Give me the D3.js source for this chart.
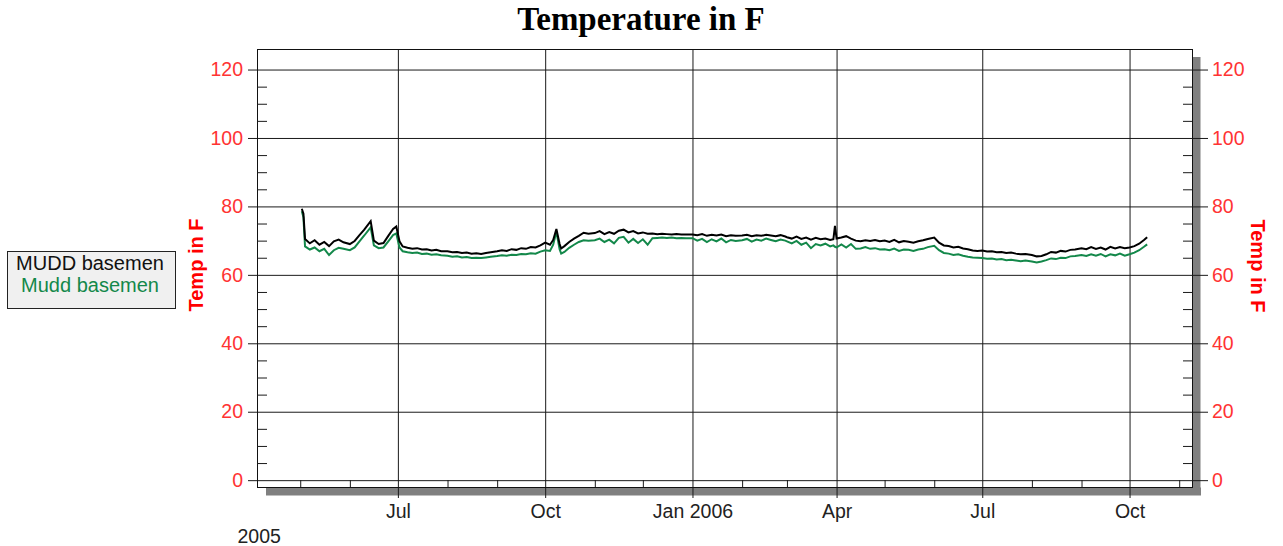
<!DOCTYPE html>
<html>
<head>
<meta charset="utf-8">
<script src="https://d3js.org/d3.v7.min.js"></script>
<style>
  body { margin: 0; background: #fff; }
  text { font-family: Arial, "Liberation Sans", sans-serif; }
</style>
</head>
<body>
<script>
// readings every ~3 days, one row per month
var dates = [
  "2005-05-02", "2005-05-03", "2005-05-04", "2005-05-07", "2005-05-10", "2005-05-13", "2005-05-16", "2005-05-19", "2005-05-22", "2005-05-25", "2005-05-28",
  "2005-06-01", "2005-06-04", "2005-06-07", "2005-06-10", "2005-06-14", "2005-06-16", "2005-06-19", "2005-06-22", "2005-06-25", "2005-06-28", "2005-06-30",
  "2005-07-02", "2005-07-04", "2005-07-07", "2005-07-10", "2005-07-13", "2005-07-16", "2005-07-19", "2005-07-22", "2005-07-25", "2005-07-28",
  "2005-08-01", "2005-08-04", "2005-08-07", "2005-08-10", "2005-08-13", "2005-08-16", "2005-08-19", "2005-08-22", "2005-08-25", "2005-08-28",
  "2005-09-01", "2005-09-04", "2005-09-07", "2005-09-10", "2005-09-13", "2005-09-16", "2005-09-19", "2005-09-22", "2005-09-25", "2005-09-28",
  "2005-10-01", "2005-10-04", "2005-10-06", "2005-10-08", "2005-10-10", "2005-10-11", "2005-10-13", "2005-10-16", "2005-10-19", "2005-10-22", "2005-10-25", "2005-10-28",
  "2005-11-01", "2005-11-04", "2005-11-07", "2005-11-10", "2005-11-13", "2005-11-16", "2005-11-19", "2005-11-22", "2005-11-25", "2005-11-28",
  "2005-12-01", "2005-12-04", "2005-12-07", "2005-12-10", "2005-12-13", "2005-12-16", "2005-12-19", "2005-12-22", "2005-12-25", "2005-12-28",
  "2006-01-01", "2006-01-04", "2006-01-07", "2006-01-10", "2006-01-13", "2006-01-16", "2006-01-19", "2006-01-22", "2006-01-25", "2006-01-28",
  "2006-02-01", "2006-02-04", "2006-02-07", "2006-02-10", "2006-02-13", "2006-02-16", "2006-02-19", "2006-02-22", "2006-02-25", "2006-02-28",
  "2006-03-01", "2006-03-04", "2006-03-07", "2006-03-10", "2006-03-13", "2006-03-16", "2006-03-19", "2006-03-22", "2006-03-25", "2006-03-28", "2006-03-30", "2006-03-31",
  "2006-04-01", "2006-04-04", "2006-04-07", "2006-04-10", "2006-04-13", "2006-04-16", "2006-04-19", "2006-04-22", "2006-04-25", "2006-04-28",
  "2006-05-01", "2006-05-04", "2006-05-07", "2006-05-10", "2006-05-13", "2006-05-16", "2006-05-19", "2006-05-22", "2006-05-25", "2006-05-28",
  "2006-06-01", "2006-06-04", "2006-06-07", "2006-06-10", "2006-06-13", "2006-06-16", "2006-06-19", "2006-06-22", "2006-06-25", "2006-06-28",
  "2006-07-01", "2006-07-04", "2006-07-07", "2006-07-10", "2006-07-13", "2006-07-16", "2006-07-19", "2006-07-22", "2006-07-25", "2006-07-28",
  "2006-08-01", "2006-08-04", "2006-08-07", "2006-08-10", "2006-08-13", "2006-08-16", "2006-08-19", "2006-08-22", "2006-08-25", "2006-08-28",
  "2006-09-01", "2006-09-04", "2006-09-07", "2006-09-10", "2006-09-13", "2006-09-16", "2006-09-19", "2006-09-22", "2006-09-25", "2006-09-28",
  "2006-10-01", "2006-10-04", "2006-10-07", "2006-10-10", "2006-10-12"
];

// "MUDD basemen" (black)
var muddUpper = [
  79.3, 77.9, 70.5, 69.2, 70.1, 68.8, 69.6, 68.4, 69.8, 70.3, 69.5,
  69.0, 69.9, 71.6, 73.2, 75.7, 70.0, 69.0, 69.3, 71.4, 73.4, 74.1,
  69.8, 68.3, 67.9, 67.6, 67.8, 67.4, 67.5, 67.1, 67.3, 66.9,
  66.9, 66.6, 66.7, 66.4, 66.5, 66.2, 66.3, 66.1, 66.4, 66.6,
  66.9, 67.2, 67.0, 67.5, 67.3, 67.8, 67.6, 68.1, 68.0, 68.6,
  69.4, 68.8, 70.2, 73.4, 69.0, 67.7, 68.4, 69.6, 70.6, 71.4, 72.3, 72.0,
  72.2, 72.8, 71.9, 72.5, 72.0, 72.9, 73.2, 72.4, 72.8, 72.1,
  72.4, 72.0, 72.1, 71.9, 72.0, 71.9, 71.8, 71.9, 71.8, 71.8,
  71.8, 71.6, 71.9, 71.4, 71.7, 71.5, 71.8, 71.3, 71.6, 71.4,
  71.5, 71.7, 71.3, 71.6, 71.4, 71.7, 71.5, 71.3, 71.6, 71.2,
  71.0, 70.6, 71.2, 70.5, 70.9, 70.3, 70.8, 70.4, 70.6, 70.2, 70.4, 74.3,
  70.6, 70.9, 71.3, 70.6, 70.0, 69.8, 70.1, 69.9, 70.2, 69.8,
  70.0, 69.6, 70.2, 69.5, 69.9, 69.7, 69.4, 69.8, 70.1, 70.5,
  70.9, 69.4, 68.6, 68.4, 68.0, 68.2, 67.7, 67.5, 67.1, 67.0,
  67.1, 66.8, 66.9, 66.6, 66.7, 66.4, 66.5, 66.2, 66.0, 66.1,
  65.8, 65.4, 65.5, 66.0, 66.7, 66.5, 67.0, 66.8, 67.3, 67.4,
  67.8, 67.5, 68.1, 67.6, 68.0, 67.4, 68.2, 67.7, 68.1, 67.8,
  68.0, 68.4, 69.1, 70.2, 71.0
];

// "Mudd basemen" (green)
var muddLower = [
  78.6, 76.8, 68.3, 67.4, 68.0, 66.9, 67.6, 65.8, 67.2, 67.9, 67.6,
  67.2, 68.0, 69.8, 71.5, 73.9, 68.6, 67.8, 68.0, 69.8, 71.6, 72.1,
  68.0, 66.9, 66.6, 66.4, 66.5, 66.1, 66.2, 65.9, 66.0, 65.7,
  65.6, 65.3, 65.4, 65.1, 65.2, 64.9, 65.0, 64.9, 65.1, 65.3,
  65.5, 65.7, 65.6, 65.9, 65.8, 66.1, 66.0, 66.3, 66.2, 66.8,
  67.2, 67.0, 68.8, 72.6, 67.5, 66.2, 66.7, 67.9, 68.8, 69.6, 70.1, 70.0,
  70.1, 70.6, 69.6, 70.3, 69.2, 70.8, 71.1, 69.4, 70.5, 69.3,
  70.4, 68.8, 70.7, 70.8, 70.9, 70.8, 70.9, 70.7, 70.8, 70.7,
  70.7, 70.0, 70.5, 69.6, 70.4, 69.8, 70.6, 69.5, 70.2, 69.9,
  70.1, 70.5, 69.7, 70.3, 70.0, 70.6, 70.2, 69.8, 70.3, 70.0,
  69.8, 69.2, 69.9, 68.8, 69.4, 67.8, 69.0, 68.6, 69.1, 68.3, 68.6, 68.2,
  68.0, 68.9, 68.0, 69.0, 67.6, 67.7, 68.1, 67.6, 67.8, 67.4,
  67.5, 67.2, 67.7, 67.0, 67.4, 67.3, 67.0, 67.4, 67.6, 68.1,
  68.5, 67.2, 66.4, 66.2, 65.8, 66.0, 65.6, 65.3, 65.1, 65.0,
  64.9, 64.7, 64.8, 64.5, 64.6, 64.3, 64.4, 64.2, 64.0, 64.2,
  63.9, 63.6, 63.9, 64.3, 64.8, 64.6, 65.0, 64.9, 65.4, 65.5,
  65.8, 65.5, 66.0, 65.6, 66.1, 65.4, 66.0, 65.7, 66.2, 65.6,
  66.0, 66.5, 67.2, 68.2, 68.9
];

var seriesNames = ["MUDD basemen", "Mudd basemen"];
var seriesColors = ["#000000", "#13884a"];

var yMajorTicks = [0, 20, 40, 60, 80, 100, 120];
var yMinorTicks = [5, 10, 15, 25, 30, 35, 45, 50, 55, 65, 70, 75, 85, 90, 95, 105, 110, 115];
var yDomain = [-2, 126];

var xMajorTicks = ["2005-07-01", "2005-10-01", "2006-01-01", "2006-04-01", "2006-07-01", "2006-10-01"];
var xMajorLabels = ["Jul", "Oct", "Jan 2006", "Apr", "Jul", "Oct"];
var xMinorTicks = ["2005-05-01", "2005-06-01", "2005-08-01", "2005-09-01", "2005-11-01", "2005-12-01",
  "2006-02-01", "2006-03-01", "2006-05-01", "2006-06-01", "2006-08-01", "2006-09-01", "2006-11-01"];
var xDomain = ["2005-04-04", "2006-11-09"];
var firstYearLabel = "2005";

var svgWidth = 1283;
var svgHeight = 546;
var plot = { left: 257, top: 49, right: 1192, bottom: 487 };

var parseDate = d3.timeParse("%Y-%m-%d");

var svg = d3.select("body")
  .append("svg")
  .attr("width", svgWidth)
  .attr("height", svgHeight);

var x = d3.scaleTime()
  .domain(xDomain.map(parseDate))
  .range([plot.left, plot.right]);

var y = d3.scaleLinear()
  .domain(yDomain)
  .range([plot.bottom, plot.top]);

// drop shadow right and below the frame
svg.append("rect")
  .attr("x", plot.right + 0.5).attr("y", plot.top + 8)
  .attr("width", 8).attr("height", plot.bottom - plot.top)
  .attr("fill", "#808080");
svg.append("rect")
  .attr("x", plot.left + 9).attr("y", plot.bottom + 0.5)
  .attr("width", plot.right - plot.left).attr("height", 8)
  .attr("fill", "#808080");

svg.append("rect")
  .attr("x", plot.left + 0.5).attr("y", plot.top + 0.5)
  .attr("width", plot.right - plot.left).attr("height", plot.bottom - plot.top)
  .attr("fill", "#fff");

function styleAxis(g) {
  g.select(".domain").remove();
  g.selectAll(".tick line").attr("stroke", "#1a1a1a");
}

// horizontal grid
svg.append("g")
  .attr("transform", `translate(${plot.left},0)`)
  .call(d3.axisRight(y).tickValues(yMajorTicks).tickSize(plot.right - plot.left).tickFormat(""))
  .call(styleAxis);

// vertical grid, runs a bit below the frame
svg.append("g")
  .attr("transform", `translate(0,${plot.top})`)
  .call(d3.axisBottom(x).tickValues(xMajorTicks.map(parseDate)).tickSize(plot.bottom - plot.top + 11).tickFormat(""))
  .call(styleAxis);

// series
var line = d3.line()
  .x((d, i) => x(parseDate(dates[i])))
  .y(d => y(d));

svg.append("path")
  .datum(muddLower)
  .attr("fill", "none")
  .attr("stroke", seriesColors[1])
  .attr("stroke-width", 2)
  .attr("d", line);

svg.append("path")
  .datum(muddUpper)
  .attr("fill", "none")
  .attr("stroke", seriesColors[0])
  .attr("stroke-width", 2)
  .attr("d", line);

// frame
svg.append("rect")
  .attr("x", plot.left + 0.5).attr("y", plot.top + 0.5)
  .attr("width", plot.right - plot.left).attr("height", plot.bottom - plot.top)
  .attr("fill", "none")
  .attr("stroke", "#111");

// y axes
var tickFont = 19.5;

var leftAxis = svg.append("g")
  .attr("transform", `translate(${plot.left},0)`)
  .call(d3.axisLeft(y).tickValues(yMajorTicks).tickSize(9).tickPadding(5))
  .call(styleAxis);

var rightAxis = svg.append("g")
  .attr("transform", `translate(${plot.right},0)`)
  .call(d3.axisRight(y).tickValues(yMajorTicks).tickSize(16).tickPadding(4))
  .call(styleAxis);

[leftAxis, rightAxis].forEach(function(g) {
  g.selectAll("text")
    .attr("font-family", "Arial, 'Liberation Sans', sans-serif")
    .attr("font-size", tickFont)
    .attr("fill", "#ff3333");
});

svg.append("g")
  .attr("transform", `translate(${plot.left},0)`)
  .call(d3.axisRight(y).tickValues(yMinorTicks).tickSize(10).tickFormat(""))
  .call(styleAxis);

svg.append("g")
  .attr("transform", `translate(${plot.right},0)`)
  .call(d3.axisLeft(y).tickValues(yMinorTicks).tickSize(9).tickFormat(""))
  .call(styleAxis);

// x axis
svg.append("g")
  .attr("transform", `translate(0,${plot.bottom})`)
  .call(d3.axisTop(x).tickValues(xMinorTicks.map(parseDate)).tickSize(7).tickFormat(""))
  .call(styleAxis);

var xAxis = svg.append("g")
  .attr("transform", `translate(0,${plot.bottom})`)
  .call(d3.axisBottom(x)
    .tickValues(xMajorTicks.map(parseDate))
    .tickSize(0)
    .tickPadding(17)
    .tickFormat((d, i) => xMajorLabels[i]))
  .call(styleAxis);

xAxis.selectAll("text")
  .attr("font-family", "Arial, 'Liberation Sans', sans-serif")
  .attr("font-size", tickFont)
  .attr("fill", "#222");

svg.append("text")
  .attr("x", 237.5)
  .attr("y", 542.5)
  .attr("font-size", tickFont)
  .attr("fill", "#222")
  .text(firstYearLabel);

// axis titles
svg.append("text")
  .attr("transform", "translate(203,265) rotate(-90)")
  .attr("text-anchor", "middle")
  .attr("font-size", 20)
  .attr("font-weight", "bold")
  .attr("fill", "#ff0000")
  .text("Temp in F");

svg.append("text")
  .attr("transform", "translate(1251,266) rotate(90)")
  .attr("text-anchor", "middle")
  .attr("font-size", 20)
  .attr("font-weight", "bold")
  .attr("fill", "#ff0000")
  .text("Temp in F");

// title
svg.append("text")
  .attr("x", 641)
  .attr("y", 30)
  .attr("text-anchor", "middle")
  .style("font-family", "'Liberation Serif', 'Times New Roman', serif")
  .attr("font-size", 33)
  .attr("font-weight", "bold")
  .attr("fill", "#000")
  .text("Temperature in F");

// legend
var legend = svg.append("g");
legend.append("rect")
  .attr("x", 7.5).attr("y", 251.5)
  .attr("width", 168).attr("height", 57)
  .attr("fill", "#f0f0f0")
  .attr("stroke", "#222");

legend.selectAll("text.key")
  .data(seriesNames)
  .enter()
  .append("text")
  .attr("class", "key")
  .attr("x", 90)
  .attr("y", (d, i) => 270 + i * 22)
  .attr("text-anchor", "middle")
  .attr("font-size", 20)
  .attr("fill", (d, i) => i === 0 ? "#111" : seriesColors[1])
  .text(d => d);
</script>
</body>
</html>
